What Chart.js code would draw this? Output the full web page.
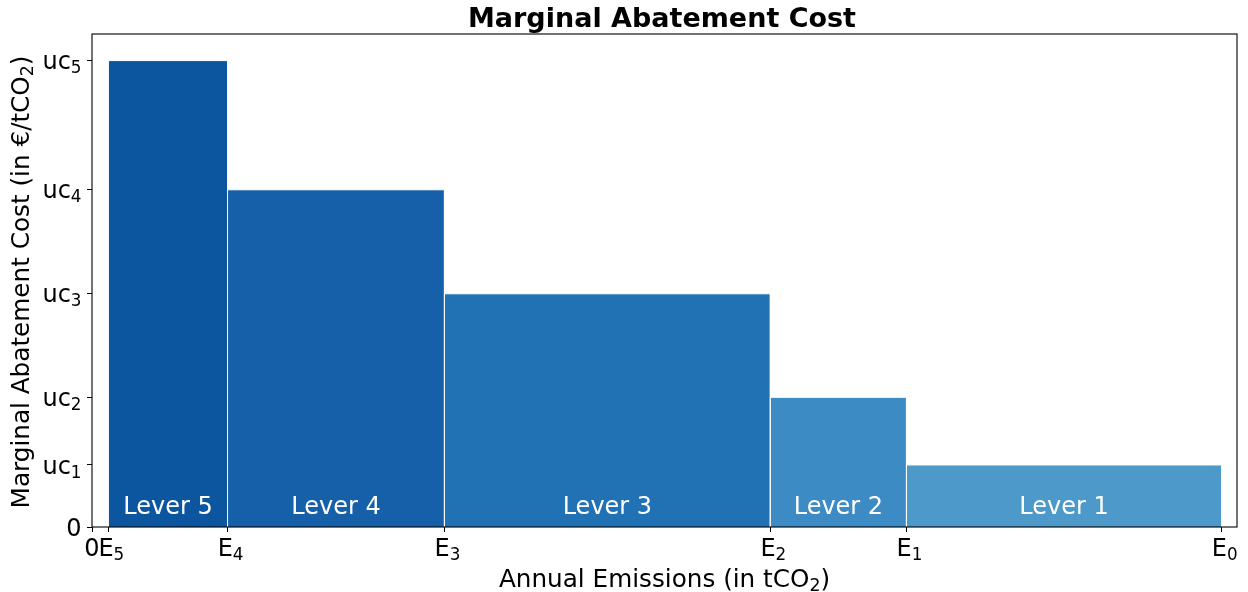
<!DOCTYPE html>
<html>
<head>
<meta charset="utf-8">
<script src="https://cdn.jsdelivr.net/npm/chart.js@4/dist/chart.umd.min.js"></script>
<style>
html,body{margin:0;padding:0;background:#fff;}
#wrap{width:1248px;height:592px;}
</style>
</head>
<body>
<div id="wrap"><canvas id="c" width="1248" height="592"></canvas></div>
<script>
// ---- data (arbitrary units) ----
const emissions = [100, 72.1, 60.05, 31.2, 12.0, 1.45];      // E0 .. E5
const unitCosts = [13.3, 27.8, 50.0, 72.3, 100.0];          // uc1 .. uc5
const leverNames = ['Lever 1', 'Lever 2', 'Lever 3', 'Lever 4', 'Lever 5'];
const xTickLabels = ['0', 'E_{5}', 'E_{4}', 'E_{3}', 'E_{2}', 'E_{1}', 'E_{0}'];
const yTickLabels = ['0', 'uc_{1}', 'uc_{2}', 'uc_{3}', 'uc_{4}', 'uc_{5}'];
const chartTitle = 'Marginal Abatement Cost';
const xTitle = 'Annual Emissions (in tCO_{2})';
const yTitle = 'Marginal Abatement Cost (in €/tCO_{2})';

// ---- styles ----
const leverColors = ['#4d9aca', '#3d8bc4', '#2171b5', '#1560a8', '#0c56a0'];
const FONT = 'DejaVu Sans';
const FS = 24;         // tick + lever label size
const FS_AXIS = 24.7;  // axis title size
const FS_TITLE = 27;   // chart title size
const SUB_SCALE = 0.7;
const X_MAX = 101.36;
const Y_MAX = 105.7;
const LABEL_Y = 2.8;

const xTickValues = [0].concat(emissions.slice().reverse());
const yTickValues = [0].concat(unitCosts);

function parts(s) {
  const out = [];
  const re = /_\{([^}]*)\}/g;
  let last = 0, m;
  while ((m = re.exec(s)) !== null) {
    if (m.index > last) out.push({t: s.slice(last, m.index), sub: false});
    out.push({t: m[1], sub: true});
    last = re.lastIndex;
  }
  if (last < s.length) out.push({t: s.slice(last), sub: false});
  return out;
}
function fontFor(sub, size) { return (sub ? size * SUB_SCALE : size) + 'px "' + FONT + '"'; }
function richWidth(ctx, s, size) {
  return parts(s).reduce((w, p) => { ctx.font = fontFor(p.sub, size); return w + ctx.measureText(p.t).width; }, 0);
}
// draws rich text with its left end at x0 and baseline at y
function richDraw(ctx, s, x0, y, size) {
  let x = x0;
  ctx.textAlign = 'left';
  ctx.textBaseline = 'alphabetic';
  parts(s).forEach(p => {
    ctx.font = fontFor(p.sub, size);
    ctx.fillText(p.t, x, y + (p.sub ? size * 0.166 : 0));
    x += ctx.measureText(p.t).width;
  });
}

const datasets = leverNames.map((name, i) => {
  const s = emissions[i + 1], e = emissions[i], h = unitCosts[i];
  return {
    label: name,
    data: [{x: s, y: 0}, {x: s, y: h}, {x: e, y: h}, {x: e, y: 0}],
    backgroundColor: leverColors[i],
    borderColor: '#ffffff',
    borderWidth: 1,
    fill: 'origin',
    pointRadius: 0,
    pointHoverRadius: 0,
    tension: 0
  };
});

const decor = {
  id: 'decor',
  afterDatasetsDraw(chart) {
    const {ctx, chartArea: a, scales: {x, y}} = chart;
    ctx.save();
    // lever labels
    ctx.fillStyle = '#ffffff';
    ctx.font = FS + 'px "' + FONT + '"';
    ctx.textAlign = 'center';
    ctx.textBaseline = 'alphabetic';
    leverNames.forEach((name, i) => {
      const cx = (x.getPixelForValue(emissions[i + 1]) + x.getPixelForValue(emissions[i])) / 2;
      ctx.fillText(name, cx, y.getPixelForValue(LABEL_Y));
    });
    // frame
    ctx.strokeStyle = '#000';
    ctx.lineWidth = 1.1;
    ctx.strokeRect(a.left, a.top, a.right - a.left, a.bottom - a.top);
    ctx.fillStyle = '#000';
    // chart title
    ctx.font = 'bold ' + FS_TITLE + 'px "' + FONT + '"';
    ctx.textAlign = 'center';
    ctx.textBaseline = 'alphabetic';
    ctx.fillText(chartTitle, (a.left + a.right) / 2 - 2.5, a.top - 7);
    // tick labels
    xTickValues.forEach((v, i) => {
      const lbl = xTickLabels[i];
      const w = richWidth(ctx, lbl, FS);
      const shift = lbl.indexOf('_{') >= 0 ? 3 : 0;
      richDraw(ctx, lbl, x.getPixelForValue(v) - w / 2 + shift, a.bottom + 29, FS);
    });
    yTickValues.forEach((v, i) => {
      const lbl = yTickLabels[i];
      const w = richWidth(ctx, lbl, FS);
      richDraw(ctx, lbl, a.left - 10.5 - w, y.getPixelForValue(v) + 8.7, FS);
    });
    // axis titles
    const wx = richWidth(ctx, xTitle, FS_AXIS);
    richDraw(ctx, xTitle, (a.left + a.right) / 2 - wx / 2, a.bottom + 60, FS_AXIS);
    const wy = richWidth(ctx, yTitle, FS_AXIS);
    ctx.translate(28.8, (a.top + a.bottom) / 2 + 1.5);
    ctx.rotate(-Math.PI / 2);
    richDraw(ctx, yTitle, -wy / 2, 0, FS_AXIS);
    ctx.restore();
  }
};

new Chart(document.getElementById('c'), {
  type: 'line',
  data: {datasets},
  options: {
    responsive: false,
    animation: false,
    events: [],
    layout: {padding: {left: 0, right: 11, top: 34, bottom: 0}},
    plugins: {
      legend: {display: false},
      tooltip: {enabled: false},
      title: {display: false}
    },
    scales: {
      x: {
        type: 'linear',
        min: 0,
        max: X_MAX,
        afterBuildTicks: s => { s.ticks = xTickValues.map(v => ({value: v})); },
        afterFit: s => { s.height = 65; },
        ticks: {display: false, autoSkip: false, maxRotation: 0, minRotation: 0},
        grid: {display: true, drawOnChartArea: false, drawTicks: true, tickLength: 5, tickColor: '#000', tickWidth: 1},
        border: {display: false},
        title: {display: false}
      },
      y: {
        type: 'linear',
        min: 0,
        max: Y_MAX,
        afterBuildTicks: s => { s.ticks = yTickValues.map(v => ({value: v})); },
        afterFit: s => { s.width = 92; },
        ticks: {display: false, autoSkip: false},
        grid: {display: true, drawOnChartArea: false, drawTicks: true, tickLength: 5, tickColor: '#000', tickWidth: 1},
        border: {display: false},
        title: {display: false}
      }
    }
  },
  plugins: [decor]
});
</script>
</body>
</html>
